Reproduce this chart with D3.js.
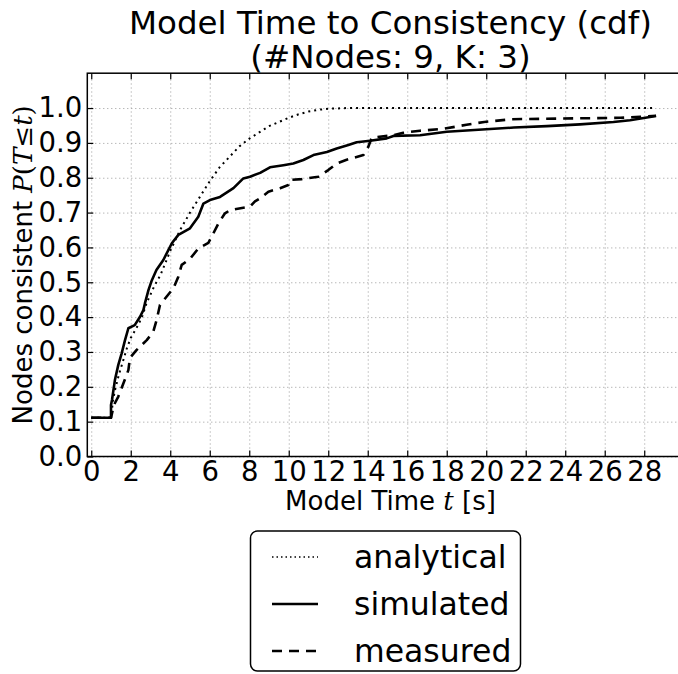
<!DOCTYPE html>
<html>
<head>
<meta charset="utf-8">
<script src="https://cdn.jsdelivr.net/npm/d3@7"></script>
<style>
  body { margin: 0; background: #fff; }
  text { font-family: "DejaVu Sans", sans-serif; fill: #000; }
  .math { font-family: "DejaVu Serif", serif; font-style: italic; }
</style>
</head>
<body>
<svg id="chart" width="678" height="674"></svg>
<script>
// ---- data -------------------------------------------------------------
const titleLines = ["Model Time to Consistency (cdf)", "(#Nodes: 9, K: 3)"];
const seriesNames = ["analytical", "simulated", "measured"];

const xTicks = [0, 2, 4, 6, 8, 10, 12, 14, 16, 18, 20, 22, 24, 26, 28];
const yTicks = [0.0, 0.1, 0.2, 0.3, 0.4, 0.5, 0.6, 0.7, 0.8, 0.9, 1.0];

// analytical cdf
const analyticalT = [0, 1.0, 1.1, 1.2, 1.4, 1.6, 1.8, 2.0, 2.2, 2.4, 2.6, 2.8, 3.0, 3.2, 3.5,
  4.0, 4.5, 5.0, 5.5, 6.0, 6.5, 7.0, 7.5, 8.0, 8.5, 9.0, 9.5, 10.0, 10.5, 11.0, 11.5, 12.0, 13.0, 28.6];
const analyticalP = [0.111, 0.111, 0.16, 0.19, 0.235, 0.272, 0.31, 0.34, 0.36, 0.38, 0.405, 0.44, 0.465, 0.49, 0.52,
  0.59, 0.65, 0.70, 0.745, 0.79, 0.83, 0.86, 0.89, 0.912, 0.93, 0.948, 0.96, 0.972, 0.982, 0.99, 0.995, 0.998, 1.0, 1.0];

// simulated empirical cdf
const simulatedT = [0, 1.0, 1.0, 1.05, 1.2, 1.37, 1.54, 1.71, 1.88, 2.2, 2.47, 2.64, 2.72, 2.9, 3.07, 3.3,
  3.65, 4.08, 4.41, 5.0, 5.42, 5.68, 6.01, 6.52, 7.2, 7.7, 8.04, 8.55, 9.05, 9.73, 10.23, 10.74, 11.25,
  11.93, 12.43, 13.02, 13.44, 14.12, 14.96, 15.3, 16.65, 18.0, 20.0, 21.4, 23.07, 24.75, 26.44, 27.28, 28.6];
const simulatedP = [0.111, 0.111, 0.148, 0.162, 0.22, 0.263, 0.296, 0.334, 0.368, 0.377, 0.401, 0.42, 0.44, 0.478, 0.506, 0.535,
  0.564, 0.612, 0.636, 0.655, 0.688, 0.726, 0.736, 0.745, 0.77, 0.798, 0.803, 0.814, 0.83, 0.836, 0.841, 0.851, 0.865,
  0.874, 0.884, 0.894, 0.902, 0.906, 0.913, 0.92, 0.922, 0.932, 0.939, 0.944, 0.948, 0.953, 0.96, 0.965, 0.977];

// measured empirical cdf
const measuredT = [0, 1.0, 1.15, 1.37, 1.63, 1.88, 1.96, 2.3, 2.81, 3.14, 3.31, 3.48, 3.82, 4.16, 4.41, 4.58,
  5.0, 5.42, 5.93, 6.1, 6.44, 6.77, 7.03, 8.04, 8.29, 8.55, 8.97, 9.56, 9.98, 10.07, 10.66, 11.5, 12.0, 12.43,
  12.9, 13.78, 14.03, 14.2, 15.3, 15.8, 16.65, 17.8, 19.0, 19.9, 21.3, 26.8, 27.8, 28.6];
const measuredP = [0.111, 0.111, 0.148, 0.172, 0.21, 0.248, 0.283, 0.306, 0.334, 0.358, 0.392, 0.435, 0.459, 0.483, 0.516, 0.55,
  0.567, 0.597, 0.613, 0.631, 0.669, 0.698, 0.707, 0.717, 0.732, 0.741, 0.76, 0.77, 0.779, 0.794, 0.796, 0.803, 0.822, 0.841,
  0.851, 0.865, 0.889, 0.915, 0.922, 0.929, 0.935, 0.94, 0.952, 0.96, 0.968, 0.972, 0.975, 0.978];

// ---- layout -----------------------------------------------------------
const svg = d3.select("#chart");
svg.append("rect").attr("width", 678).attr("height", 674).attr("fill", "#fff");

const plotLeft = 87.3, plotRight = 693.6, plotTop = 73.2, plotBottom = 456.5;
const x = d3.scaleLinear().domain([-0.2, 30.5]).range([plotLeft, plotRight]);
const y = d3.scaleLinear().domain([0, 1.1]).range([plotBottom, plotTop]);

const styles = {
  analytical: { width: 2, dash: "2,4" },
  simulated: { width: 2.6, dash: null },
  measured: { width: 2.6, dash: "10,7" }
};

// grid
const gridX = svg.append("g").attr("transform", `translate(0,${plotBottom})`)
  .call(d3.axisBottom(x).tickValues(xTicks).tickSize(-(plotBottom - plotTop)).tickFormat(""));
const gridY = svg.append("g").attr("transform", `translate(${plotLeft},0)`)
  .call(d3.axisLeft(y).tickValues(yTicks).tickSize(-(plotRight - plotLeft)).tickFormat(""));
[gridX, gridY].forEach(g => {
  g.select(".domain").remove();
  g.selectAll("line").attr("stroke", "#999").attr("stroke-width", 1).attr("stroke-dasharray", "1,3");
});

// series
svg.append("clipPath").attr("id", "plotclip")
  .append("rect").attr("x", plotLeft).attr("y", plotTop)
  .attr("width", plotRight - plotLeft).attr("height", plotBottom - plotTop);
const line = d3.line().x(d => x(d[0])).y(d => y(d[1]));
const series = [
  ["analytical", analyticalT, analyticalP],
  ["simulated", simulatedT, simulatedP],
  ["measured", measuredT, measuredP]
];
const plot = svg.append("g").attr("clip-path", "url(#plotclip)");
series.forEach(([name, ts, ps]) => {
  const st = styles[name];
  plot.append("path")
    .datum(ts.map((t, i) => [t, ps[i]]))
    .attr("d", line)
    .attr("fill", "none")
    .attr("stroke", "#000")
    .attr("stroke-width", st.width)
    .attr("stroke-linejoin", "round")
    .attr("stroke-dasharray", st.dash);
});

// axes with inward ticks
const fmt = d3.format(".1f");
const xAxis = svg.append("g").attr("transform", `translate(0,${plotBottom})`)
  .call(d3.axisBottom(x).tickValues(xTicks).tickSizeInner(-6).tickSizeOuter(0).tickPadding(5));
const yAxis = svg.append("g").attr("transform", `translate(${plotLeft},0)`)
  .call(d3.axisLeft(y).tickValues(yTicks).tickSizeInner(-6).tickSizeOuter(0).tickPadding(5).tickFormat(fmt));
const xTop = svg.append("g").attr("transform", `translate(0,${plotTop})`)
  .call(d3.axisTop(x).tickValues(xTicks).tickSizeInner(-6).tickSizeOuter(0).tickFormat(""));
[xAxis, yAxis, xTop].forEach(g => {
  g.select(".domain").remove();
  g.selectAll("line").attr("stroke", "#000").attr("stroke-width", 1.2);
  g.selectAll("text").attr("font-size", 27.5).attr("font-family", "DejaVu Sans").attr("fill", "#000");
});

// frame
svg.append("rect").attr("x", plotLeft).attr("y", plotTop)
  .attr("width", plotRight - plotLeft).attr("height", plotBottom - plotTop)
  .attr("fill", "none").attr("stroke", "#000").attr("stroke-width", 1.5);

// title
const cx = (plotLeft + plotRight) / 2;
svg.append("text").attr("x", cx).attr("y", 34).attr("text-anchor", "middle").attr("font-size", 32.5).text(titleLines[0]);
svg.append("text").attr("x", cx).attr("y", 68).attr("text-anchor", "middle").attr("font-size", 32.5).text(titleLines[1]);

// x label
const xl = svg.append("text").attr("x", cx).attr("y", 510).attr("text-anchor", "middle").attr("font-size", 26);
xl.append("tspan").text("Model Time ");
xl.append("tspan").attr("class", "math").text("t");
xl.append("tspan").text(" [s]");

// y label
const yl = svg.append("text").attr("transform", `translate(32,${(plotTop + plotBottom) / 2}) rotate(-90)`)
  .attr("text-anchor", "middle").attr("font-size", 26);
yl.append("tspan").text("Nodes consistent ");
yl.append("tspan").attr("class", "math").text("P");
yl.append("tspan").attr("font-family", "DejaVu Serif").text("(");
yl.append("tspan").attr("class", "math").text("T");
yl.append("tspan").attr("font-family", "DejaVu Serif").text("≤");
yl.append("tspan").attr("class", "math").text("t");
yl.append("tspan").attr("font-family", "DejaVu Serif").text(")");

// legend
const lg = svg.append("g");
lg.append("rect").attr("x", 250.5).attr("y", 531).attr("width", 270).attr("height", 140).attr("rx", 7)
  .attr("fill", "#fff").attr("stroke", "#000").attr("stroke-width", 1.5);
seriesNames.forEach((name, i) => {
  const cy = 557 + i * 47;
  const st = styles[name];
  lg.append("line").attr("x1", 272).attr("x2", 318).attr("y1", cy).attr("y2", cy)
    .attr("stroke", "#000").attr("stroke-width", name === "analytical" ? 1.5 : st.width)
    .attr("stroke-dasharray", name === "analytical" ? "1.5,3" : st.dash);
  lg.append("text").attr("x", 354).attr("y", cy).attr("dy", "0.35em").attr("font-size", 31.5).text(name);
});
</script>
</body>
</html>
